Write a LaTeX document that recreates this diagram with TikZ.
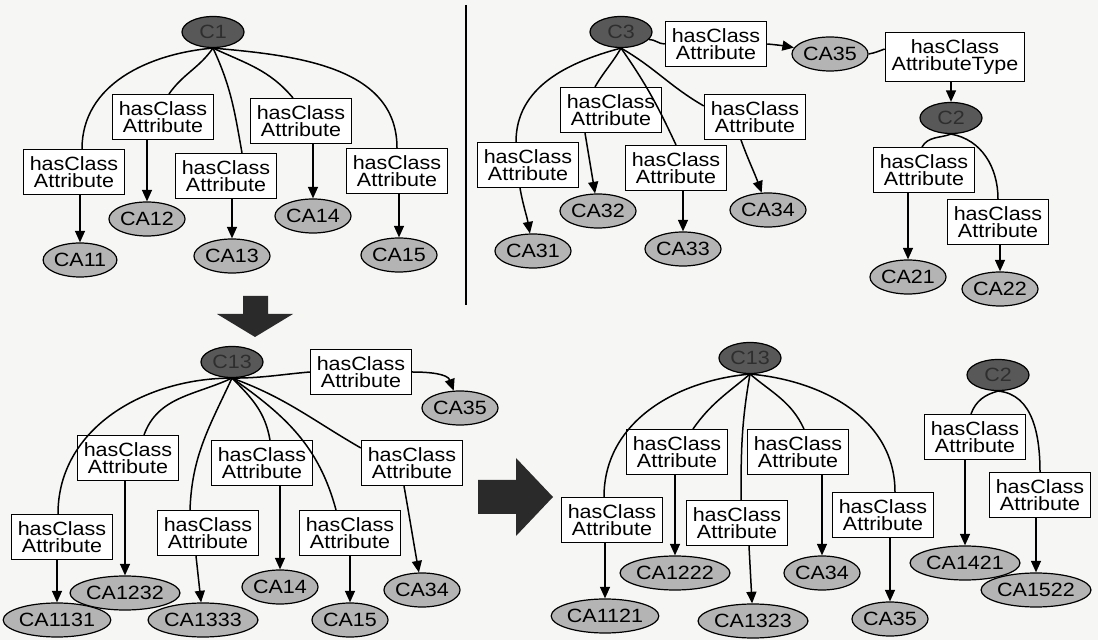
\documentclass[tikz,border=0pt]{standalone}
\usepackage{fontspec}
\setmainfont{Liberation Sans}[FakeStretch=1.12]
\usetikzlibrary{shapes.geometric,arrows.meta}
\definecolor{paper}{HTML}{F6F6F4}
\definecolor{darkfill}{HTML}{585858}
\definecolor{darktext}{HTML}{2E2E2E}
\definecolor{litefill}{HTML}{B4B4B4}
\definecolor{bigfill}{HTML}{2A2A2A}
\begin{document}
\begin{tikzpicture}[x=0.5pt,y=-0.5pt,line width=0.75pt,
    font=\fontsize{9.6}{8.6}\selectfont,
    lbl/.style={draw,fill=white,line width=0.6pt,align=center,inner xsep=3.2pt,inner ysep=3.4pt},
    lite/.style={ellipse,draw,fill=litefill,line width=0.6pt,inner xsep=0pt,inner ysep=1pt,minimum height=17pt},
    dark/.style={ellipse,draw,fill=darkfill,text=darktext,line width=0.6pt,inner sep=0pt,minimum width=31pt,minimum height=15.5pt},
    arr/.style={-{Triangle[length=5.8pt,width=5pt]}},
    bigarr/.style={fill=bigfill}]
        \useasboundingbox (0,0) rectangle (1098,640);
        \fill[paper] (0,0) rectangle (1098,640);

        % C1 and its attributes
        \node[dark] (c1) at (213,32) {C1};
        \node[lbl] (l11) at (74,172) {hasClass\\Attribute};
        \node[lite] (ca11) at (80,260) {CA11};
        \node[lbl] (l12) at (163,117) {hasClass\\Attribute};
        \node[lite] (ca12) at (147,219) {CA12};
        \node[lbl] (l13) at (226,176) {hasClass\\Attribute};
        \node[lite] (ca13) at (232,256) {CA13};
        \node[lbl] (l14) at (301,121) {hasClass\\Attribute};
        \node[lite] (ca14) at (313,216) {CA14};
        \node[lbl] (l15) at (397,171) {hasClass\\Attribute};
        \node[lite] (ca15) at (399,255) {CA15};

        \draw (c1.south) to[out=185,in=90] ([xshift=4pt]l11.north);
        \draw (c1.south) to[out=235,in=55] ([xshift=3pt]l12.north);
        \draw (c1.south) to[out=-65,in=100] ([xshift=8pt]l13.north);
        \draw (c1.south) to[out=-25,in=130] ([xshift=-4pt]l14.north);
        \draw (c1.south) to[out=-5,in=90] (l15.north);
        \draw[arr] (l11.south -| ca11) -- (ca11);
        \draw[arr] (l12.south -| ca12) -- (ca12);
        \draw[arr] (l13.south -| ca13) -- (ca13);
        \draw[arr] (l14.south -| ca14) -- (ca14);
        \draw[arr] (l15.south -| ca15) -- (ca15);

        \draw (466,5) -- (466,305);

        % C3 and C2
        \node[dark] (c3) at (621,32) {C3};
        \node[lbl] (l35) at (716,44) {hasClass\\Attribute};
        \node[lite] (ca35) at (830,54) {CA35};
        \node[lbl] (l35t) at (955,57) {hasClass\\AttributeType};
        \node[dark] (c2) at (951,118) {C2};
        \node[lbl] (l21) at (924,170) {hasClass\\Attribute};
        \node[lite] (ca21) at (908,277) {CA21};
        \node[lbl] (l22) at (998,222) {hasClass\\Attribute};
        \node[lite] (ca22) at (1000,289) {CA22};
        \node[lbl] (l31) at (528,165) {hasClass\\Attribute};
        \node[lite] (ca31) at (533,251) {CA31};
        \node[lbl] (l32) at (611,110) {hasClass\\Attribute};
        \node[lite] (ca32) at (598,211) {CA32};
        \node[lbl] (l33) at (676,168) {hasClass\\Attribute};
        \node[lite] (ca33) at (683,249) {CA33};
        \node[lbl] (l34) at (755,117) {hasClass\\Attribute};
        \node[lite] (ca34) at (768,210) {CA34};

        \draw (c3.-15) to[out=0,in=180] (l35.west);
        \draw[arr] (l35.east) to[out=-5,in=170] (ca35);
        \draw (ca35.east) to[out=10,in=200] ([yshift=4pt]l35t.west);
        \draw[arr] (l35t.south -| c2) -- (c2);
        \draw (c2.south) to[out=200,in=60] ([xshift=-1pt]l21.north);
        \draw (c2.south) to[out=-10,in=90] (l22.north);
        \draw[arr] (l21.south -| ca21) -- (ca21);
        \draw[arr] (l22.south -| ca22) -- (ca22);
        \draw (c3.south) to[out=195,in=90] ([xshift=-6pt]l31.north);
        \draw (c3.south) to[out=240,in=60] ([xshift=-8pt]l32.north);
        \draw (c3.south) to[out=-55,in=115] (l33.north);
        \draw (c3.south) to[out=-30,in=150] ([yshift=-6pt]l34.north west);
        \draw[arr] ([xshift=-4pt]l31.south) to[out=-80,in=100] (ca31);
        \draw[arr] ([xshift=-13pt]l32.south) -- (ca32);
        \draw[arr] (l33.south -| ca33) -- (ca33);
        \draw[arr] ([xshift=-7pt]l34.south) to[out=-70,in=110] (ca34);

        \fill[bigarr] (243,296) -- (268,296) -- (268,314) -- (293,314) -- (255,337)
            -- (217,314) -- (243,314) -- cycle;

        % merged C13
        \node[dark] (c13) at (232,362) {C13};
        \node[lbl] (m35) at (361,372) {hasClass\\Attribute};
        \node[lite] (ma35) at (460,408) {CA35};
        \node[lbl] (m31) at (62,537) {hasClass\\Attribute};
        \node[lite] (ma31) at (57,620) {CA1131};
        \node[lbl] (m32) at (128,458) {hasClass\\Attribute};
        \node[lite] (ma32) at (125,593) {CA1232};
        \node[lbl] (m33) at (208,533) {hasClass\\Attribute};
        \node[lite] (ma33) at (203,620) {CA1333};
        \node[lbl] (m14) at (262,463) {hasClass\\Attribute};
        \node[lite] (ma14) at (280,587) {CA14};
        \node[lbl] (m15) at (350,533) {hasClass\\Attribute};
        \node[lite] (ma15) at (350,620) {CA15};
        \node[lbl] (m34) at (412,463) {hasClass\\Attribute};
        \node[lite] (ma34) at (422,590) {CA34};

        \draw (c13.south) to[out=180,in=90] ([xshift=-2pt]m31.north);
        \draw (c13.south) to[out=0,in=185] (m35.west);
        \draw[arr] (m35.east) to[out=0,in=110] (ma35);
        \draw (c13.south) to[out=205,in=70] ([xshift=8pt]m32.north);
        \draw (c13.south) to[out=245,in=88] ([xshift=-9pt]m33.north);
        \draw (c13.south) to[out=-45,in=100] ([xshift=4pt]m14.north);
        \draw (c13.south) to[out=-35,in=105] ([xshift=-7pt]m15.north);
        \draw (c13.south) to[out=-20,in=150] ([yshift=-4pt]m34.north west);
        \draw[arr] (m31.south -| ma31) -- (ma31);
        \draw[arr] (m32.south -| ma32) -- (ma32);
        \draw[arr] ([xshift=-6pt]m33.south) -- (ma33);
        \draw[arr] (m14.south -| ma14) -- (ma14);
        \draw[arr] (m15.south -| ma15) -- (ma15);
        \draw[arr] ([xshift=-4pt]m34.south) to[out=-80,in=100] (ma34);

        \fill[bigarr] (478,480) -- (516,480) -- (516,458) -- (553,497) -- (516,536)
            -- (516,514) -- (478,514) -- cycle;

        % result
        \node[dark] (r13) at (750,358) {C13};
        \node[lbl] (r21) at (612,520) {hasClass\\Attribute};
        \node[lite] (ra21) at (605,616) {CA1121};
        \node[lbl] (r22) at (677,452) {hasClass\\Attribute};
        \node[lite] (ra22) at (675,573) {CA1222};
        \node[lbl] (r23) at (737,523) {hasClass\\Attribute};
        \node[lite] (ra23) at (753,621) {CA1323};
        \node[lbl] (r34) at (798,452) {hasClass\\Attribute};
        \node[lite] (ra34) at (822,573) {CA34};
        \node[lbl] (r35) at (883,515) {hasClass\\Attribute};
        \node[lite] (ra35) at (890,619) {CA35};
        \node[dark] (r2) at (998,375) {C2};
        \node[lbl] (r41) at (975,437) {hasClass\\Attribute};
        \node[lite] (ra41) at (965,563) {CA1421};
        \node[lbl] (r52) at (1040,495) {hasClass\\Attribute};
        \node[lite] (ra52) at (1036,590) {CA1522};

        \draw (r13.south) to[out=185,in=90] ([xshift=-4pt]r21.north);
        \draw (r13.south) to[out=220,in=55] ([xshift=8pt]r22.north);
        \draw (r13.south) to[out=260,in=90] ([xshift=2pt]r23.north);
        \draw (r13.south) to[out=-40,in=115] ([xshift=3pt]r34.north);
        \draw (r13.south) to[out=-5,in=90] ([xshift=6pt]r35.north);
        \draw[arr] (r21.south -| ra21) -- (ra21);
        \draw[arr] (r22.south -| ra22) -- (ra22);
        \draw[arr] ([xshift=6pt]r23.south) -- (ra23);
        \draw[arr] (r34.south -| ra34) -- (ra34);
        \draw[arr] (r35.south -| ra35) -- (ra35);
        \draw (r2.south) to[out=195,in=70] ([xshift=-2pt]r41.north);
        \draw (r2.south) to[out=-5,in=90] (r52.north);
        \draw[arr] (r41.south -| ra41) -- (ra41);
        \draw[arr] (r52.south -| ra52) -- (ra52);
\end{tikzpicture}
\end{document}
